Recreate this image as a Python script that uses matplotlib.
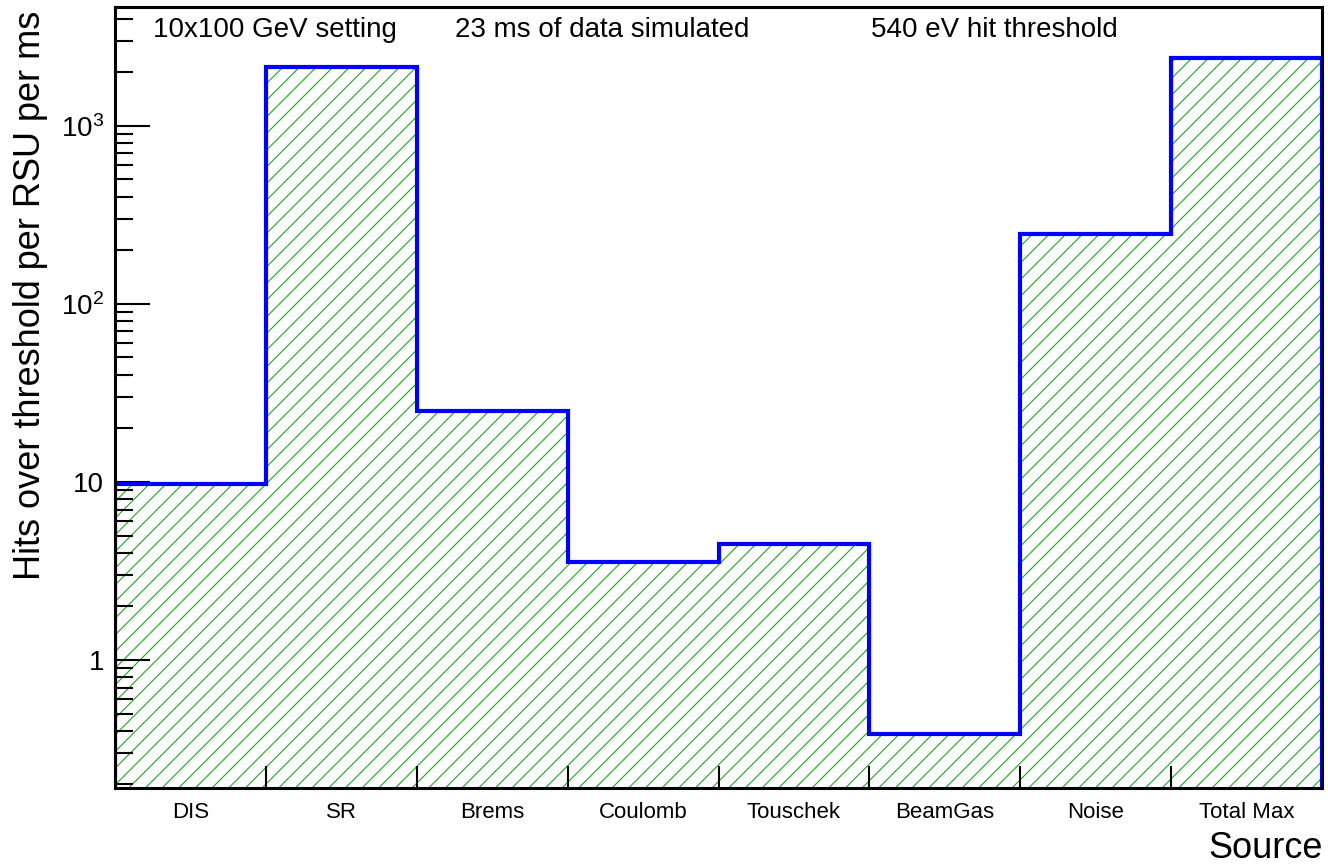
import numpy as np
import matplotlib
matplotlib.use("Agg")
import matplotlib.pyplot as plt
from matplotlib.ticker import FixedLocator, NullFormatter, FuncFormatter

plt.rcParams['font.family'] = ['Liberation Sans', 'DejaVu Sans']
plt.rcParams['mathtext.fontset'] = 'custom'
plt.rcParams['mathtext.rm'] = 'Liberation Sans'
plt.rcParams['mathtext.it'] = 'Liberation Sans'
plt.rcParams['hatch.linewidth'] = 0.75

# Hit rates per background source
sources = ["DIS", "SR", "Brems", "Coulomb", "Touschek", "BeamGas", "Noise", "Total Max"]
hits = [9.75, 2140.0, 25.0, 3.56, 4.49, 0.385, 248.0, 2405.0]
annotations = ["10x100 GeV setting", "23 ms of data simulated", "540 eV hit threshold"]

W, H = 1328, 865
fig = plt.figure(figsize=(W / 100, H / 100), dpi=100)
ax = fig.add_axes([115 / W, 1 - 788 / H, (1322 - 115) / W, (788 - 7) / H])

edges = np.arange(len(sources) + 1)
ymin, ymax = 0.191, 4650.0

# hatched fill under the histogram
ax.stairs(hits, edges, baseline=1e-4, fill=True, facecolor='none',
          edgecolor='#14a014', hatch='//', linewidth=0, zorder=1)
# histogram outline
ax.stairs(hits, edges, baseline=1e-4, fill=False, color='#0000ff',
          linewidth=3.0, zorder=2)

ax.set_yscale('log')
ax.set_xlim(edges[0], edges[-1])
ax.set_ylim(ymin, ymax)

# x axis: ticks at bin edges, labels at bin centres
ax.xaxis.set_major_locator(FixedLocator(edges[1:-1]))
ax.xaxis.set_major_formatter(NullFormatter())
ax.xaxis.set_minor_locator(FixedLocator(edges[:-1] + 0.5))
ax.xaxis.set_minor_formatter(FuncFormatter(lambda v, p: sources[int(v)]))
ax.tick_params(axis='x', which='major', direction='in', length=16, width=1.5)
ax.tick_params(axis='x', which='minor', length=0, pad=10, labelsize=16)

# y axis: log decades with minor ticks
major = [1, 10, 100, 1000]
minor = [m * 10.0 ** e for e in range(-1, 4) for m in range(2, 10)]
ax.yaxis.set_major_locator(FixedLocator(major))
ax.yaxis.set_minor_locator(FixedLocator(minor))
ax.yaxis.set_minor_formatter(NullFormatter())


def ylab(v, p):
    if v < 100:
        return "%d" % v
    return r"$\mathregular{10^{%d}}$" % int(round(np.log10(v)))


ax.yaxis.set_major_formatter(FuncFormatter(ylab))
ax.tick_params(axis='y', which='major', direction='in', length=25, width=1.5,
               labelsize=20, pad=8)
ax.tick_params(axis='y', which='minor', direction='in', length=13, width=1.5)
ax.tick_params(top=False, right=False, which='both')

for s in ax.spines.values():
    s.set_linewidth(2.2)
    s.set_zorder(5)

ax.set_ylabel("Hits over threshold per RSU per ms", fontsize=26)
ax.yaxis.set_label_coords(-(115 - 48) / (1322 - 115), 1 - (295 - 7) / (788 - 7))

fig.text(1323 / W, 1 - 848 / H, "Source", fontsize=26, ha='right', va='center')

for xc, txt in zip([275, 602, 994], annotations):
    fig.text(xc / W, 1 - 37 / H, txt, fontsize=20, ha='center', va='baseline')

fig.savefig("out.png", dpi=100)
